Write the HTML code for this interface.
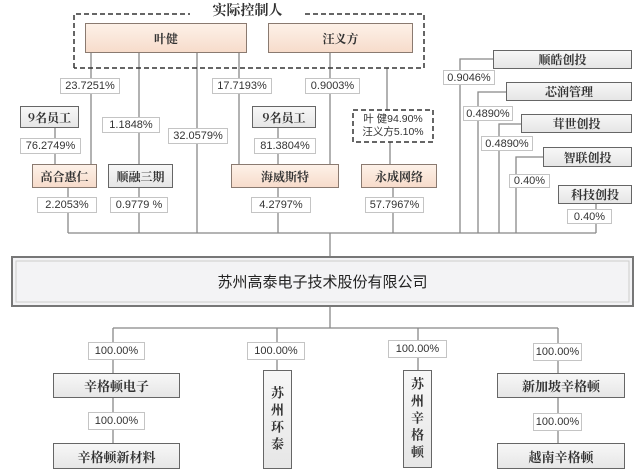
<!DOCTYPE html>
<html><head><meta charset="utf-8"><style>
body{margin:0;width:640px;height:476px;background:#fff;position:relative;overflow:hidden;font-family:"Liberation Sans","Noto Sans CJK SC",sans-serif}
.b{position:absolute;box-sizing:border-box;display:flex;align-items:center;justify-content:center;text-align:center}
.p{background:#fff;border:1px solid #c4c4c4;font-size:11px;color:#333}
.n{font-family:"Noto Serif CJK SC","Liberation Serif",serif;font-size:12px;font-weight:bold;color:#333;border:1.5px solid #666;background:linear-gradient(#f7f7f7,#e6e6e6)}
.o{background:linear-gradient(#fdf1e8,#f7dccb);border:1.5px solid #8a7a70}
.v{writing-mode:vertical-rl;letter-spacing:4px;font-size:13px}
svg{position:absolute;left:0;top:0}
</style></head><body>
<svg width="640" height="476">
<g stroke="#888" stroke-width="1.3" fill="none">
<path d="M91 53V164M139 53V164M197 53V233M239 53V164M330 53V164M387 68V110M390 142V164"/>
<path d="M55 128V164M278 128V164"/>
<path d="M68 188V233M139 188V233M278 188V233M393 188V233"/>
<path d="M460 233V59H493M478 233V92H506M499 233V124H521M516 233V157H543M596 204V233"/>
<path d="M68 233H596M330 233V257"/>
<path d="M330 306V328M113 328H558M113 328V373M277 328V370M418 328V370M558 328V373M113 398V443M558 398V443"/>
</g>
<path d="M74 68V14H190M305 14H424V68H74" stroke="#333" stroke-width="1.5" stroke-dasharray="5,3" fill="none"/>
<rect x="353" y="110" width="80" height="32" stroke="#333" stroke-width="1.5" stroke-dasharray="5,3" fill="#fff"/>
<rect x="12" y="257" width="621" height="49" fill="#f3f3f5" stroke="#777" stroke-width="2"/>
<rect x="16" y="261" width="613" height="41" fill="none" stroke="#ccc" stroke-width="1"/>
</svg>
<div class="b" style="left:190px;top:0;width:115px;height:20px;font-family:'Noto Serif CJK SC',serif;font-size:14px;font-weight:bold;color:#333">实际控制人</div>
<div class="b n o" style="left:85px;top:23px;width:162px;height:30px">叶健</div>
<div class="b n o" style="left:268px;top:23px;width:145px;height:30px">汪义方</div>
<div class="b p" style="left:60px;top:78px;width:60px;height:16px">23.7251%</div>
<div class="b p" style="left:212px;top:78px;width:60px;height:16px">17.7193%</div>
<div class="b p" style="left:305px;top:78px;width:55px;height:16px">0.9003%</div>
<div class="b p" style="left:102px;top:117px;width:58px;height:16px">1.1848%</div>
<div class="b p" style="left:168px;top:128px;width:60px;height:16px">32.0579%</div>
<div class="b n" style="left:20px;top:106px;width:59px;height:22px">9名员工</div>
<div class="b p" style="left:20px;top:138px;width:61px;height:16px">76.2749%</div>
<div class="b n" style="left:252px;top:106px;width:64px;height:22px">9名员工</div>
<div class="b p" style="left:254px;top:138px;width:62px;height:16px">81.3804%</div>
<div class="b" style="left:353px;top:110px;width:80px;height:32px;font-size:10.5px;line-height:13px;color:#333;flex-direction:column">叶 健94.90%<br>汪义方5.10%</div>
<div class="b n o" style="left:32px;top:164px;width:65px;height:24px">高合惠仁</div>
<div class="b n" style="left:108px;top:164px;width:65px;height:24px">顺融三期</div>
<div class="b n o" style="left:231px;top:164px;width:108px;height:24px">海威斯特</div>
<div class="b n o" style="left:361px;top:164px;width:76px;height:24px">永成网络</div>
<div class="b p" style="left:37px;top:197px;width:60px;height:16px">2.2053%</div>
<div class="b p" style="left:110px;top:197px;width:58px;height:16px">0.9779 %</div>
<div class="b p" style="left:251px;top:197px;width:60px;height:16px">4.2797%</div>
<div class="b p" style="left:365px;top:197px;width:59px;height:16px">57.7967%</div>
<div class="b n" style="left:493px;top:50px;width:139px;height:19px">顺皓创投</div>
<div class="b p" style="left:443px;top:70px;width:52px;height:15px">0.9046%</div>
<div class="b n" style="left:506px;top:82px;width:126px;height:19px">芯润管理</div>
<div class="b p" style="left:463px;top:106px;width:50px;height:15px">0.4890%</div>
<div class="b n" style="left:521px;top:114px;width:111px;height:19px">茸世创投</div>
<div class="b p" style="left:481px;top:136px;width:52px;height:15px">0.4890%</div>
<div class="b n" style="left:543px;top:147px;width:89px;height:20px">智联创投</div>
<div class="b p" style="left:509px;top:174px;width:41px;height:14px">0.40%</div>
<div class="b n" style="left:558px;top:185px;width:74px;height:19px">科技创投</div>
<div class="b p" style="left:567px;top:209px;width:45px;height:15px">0.40%</div>
<div class="b" style="left:12px;top:257px;width:621px;height:49px;font-size:15px;color:#222">苏州高泰电子技术股份有限公司</div>
<div class="b p" style="left:88px;top:342px;width:57px;height:18px">100.00%</div>
<div class="b p" style="left:247px;top:342px;width:58px;height:18px">100.00%</div>
<div class="b p" style="left:388px;top:340px;width:59px;height:18px">100.00%</div>
<div class="b p" style="left:533px;top:343px;width:49px;height:18px">100.00%</div>
<div class="b n" style="left:53px;top:373px;width:127px;height:25px;font-size:13px">辛格顿电子</div>
<div class="b p" style="left:88px;top:412px;width:57px;height:18px">100.00%</div>
<div class="b n" style="left:53px;top:443px;width:127px;height:26px;font-size:13px">辛格顿新材料</div>
<div class="b n v" style="left:263px;top:370px;width:29px;height:99px">苏州环泰</div>
<div class="b n v" style="left:403px;top:370px;width:29px;height:98px">苏州辛格顿</div>
<div class="b n" style="left:497px;top:373px;width:128px;height:25px;font-size:13px">新加坡辛格顿</div>
<div class="b p" style="left:533px;top:413px;width:49px;height:18px">100.00%</div>
<div class="b n" style="left:497px;top:443px;width:128px;height:26px;font-size:13px">越南辛格顿</div>
</body></html>
